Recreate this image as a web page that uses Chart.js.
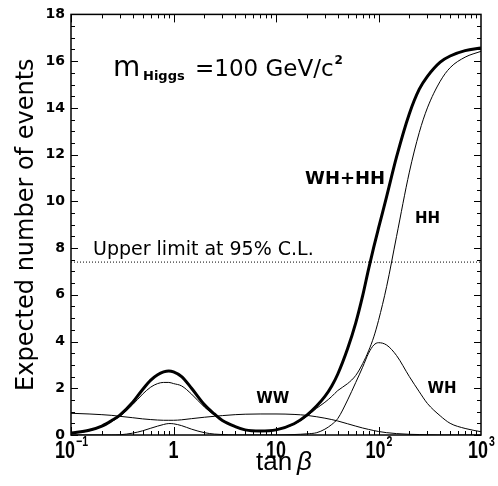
<!DOCTYPE html>
<html>
<head>
<meta charset="utf-8">
<script src="https://cdn.jsdelivr.net/npm/chart.js@4.4.1/dist/chart.umd.min.js"></script>
<style>
  html, body { margin: 0; padding: 0; background: #fff; }
</style>
</head>
<body>
<canvas id="chart" width="498" height="486"></canvas>
<script>
// tan(beta) sample points
const tanBeta = [0.1, 0.15, 0.2, 0.25, 0.3, 0.4, 0.5, 0.6, 0.7, 0.8, 0.9, 1,
  1.2, 1.5, 2, 2.5, 3, 4, 5, 7, 10,
  15, 20, 25, 30, 35, 40, 50, 60, 70, 80, 90, 100,
  120, 150, 200, 250, 300, 400, 500, 700, 1000];

// expected number of events per channel
const totalWhHh = [0.08, 0.2, 0.38, 0.62, 0.85, 1.4, 1.95, 2.35, 2.58, 2.7, 2.74, 2.7,
  2.5, 2.0, 1.3, 0.9, 0.62, 0.36, 0.22, 0.17, 0.22,
  0.48, 0.85, 1.25, 1.65, 2.1, 2.6, 3.7, 4.8, 5.95, 7.1, 8.05, 8.85,
  10.2, 11.9, 13.75, 14.8, 15.35, 15.96, 16.22, 16.45, 16.56];
const hh = [0.07, 0.18, 0.36, 0.58, 0.8, 1.3, 1.75, 2.05, 2.2, 2.25, 2.25, 2.2,
  2.1, 1.75, 1.2, 0.86, 0.6, 0.36, 0.22, 0.17, 0.22,
  0.46, 0.8, 1.15, 1.4, 1.65, 1.9, 2.2, 2.55, 3.05, 3.6, 4.2, 4.9,
  6.35, 8.5, 11.25, 12.95, 14.0, 15.14, 15.72, 16.17, 16.42];
const wh = [0, 0, 0, 0, 0.01, 0.08, 0.18, 0.29, 0.38, 0.45, 0.49, 0.48,
  0.4, 0.25, 0.1, 0.04, 0.02, 0, 0, 0, 0,
  0.02, 0.05, 0.1, 0.25, 0.45, 0.7, 1.5, 2.25, 2.9, 3.5, 3.85, 3.95,
  3.85, 3.4, 2.5, 1.85, 1.35, 0.82, 0.5, 0.28, 0.14];
const ww = [0.93, 0.9, 0.87, 0.84, 0.8, 0.74, 0.69, 0.66, 0.64, 0.63, 0.63, 0.63,
  0.65, 0.7, 0.76, 0.8, 0.83, 0.87, 0.89, 0.9, 0.9,
  0.88, 0.84, 0.78, 0.72, 0.66, 0.6, 0.48, 0.38, 0.3, 0.24, 0.19, 0.15,
  0.1, 0.06, 0.03, 0.02, 0.01, 0, 0, 0, 0];

const upperLimit = 7.4;
const xRange = [0.1, 1000];
const yTicks = [0, 2, 4, 6, 8, 10, 12, 14, 16, 18];
// decade labels: mantissa text and exponent text
const xDecades = [0.1, 1, 10, 100, 1000];
const xDecadeBase = ['10', '1', '10', '10', '10'];
const xDecadeExp = ['\u22121', '', '', '2', '3'];

const FONT = "'DejaVu Sans', sans-serif";
const SANS = "'Liberation Sans', Arial, sans-serif";

function pts(ys) {
  return tanBeta.map((x, i) => ({ x: x, y: ys[i] }));
}

function curve(ys, width) {
  return {
    data: pts(ys),
    borderColor: '#000',
    borderWidth: width,
    pointRadius: 0,
    cubicInterpolationMode: 'monotone',
    fill: false
  };
}

// text squeezed horizontally, to get the tall narrow glyphs of the original
function narrowText(ctx, text, x, y, sx) {
  ctx.save();
  ctx.translate(x, y);
  ctx.scale(sx, 1);
  ctx.fillText(text, 0, 0);
  ctx.restore();
}

// ticks on all four sides pointing inwards, the frame and the labels
const framePlugin = {
  id: 'frame',
  afterDatasetsDraw(chart) {
    const { ctx, chartArea: a, scales: { x, y } } = chart;
    ctx.save();
    ctx.strokeStyle = '#000';
    ctx.lineWidth = 1.5;
    ctx.strokeRect(a.left, a.top, a.right - a.left, a.bottom - a.top);

    ctx.lineWidth = 1;
    ctx.beginPath();
    for (let v = 0; v <= 18; v += 0.5) {
      const py = Math.round(y.getPixelForValue(v)) + 0.5;
      const len = v % 2 === 0 ? 7 : 4;
      ctx.moveTo(a.left, py); ctx.lineTo(a.left + len, py);
      ctx.moveTo(a.right, py); ctx.lineTo(a.right - len, py);
    }
    for (let d = 0.1; d < 1000; d *= 10) {
      for (let m = 1; m < 10; m++) {
        const px = Math.round(x.getPixelForValue(d * m)) + 0.5;
        const len = m === 1 ? 8 : 4;
        ctx.moveTo(px, a.bottom); ctx.lineTo(px, a.bottom - len);
        ctx.moveTo(px, a.top); ctx.lineTo(px, a.top + len);
      }
    }
    ctx.stroke();

    ctx.fillStyle = '#000';
    ctx.textBaseline = 'alphabetic';
    ctx.textAlign = 'left';

    // x decade labels with superscript exponents
    const sx = 0.75;
    xDecades.forEach((d, i) => {
      ctx.font = 'bold 24px ' + SANS;
      const wb = ctx.measureText(xDecadeBase[i]).width * sx;
      ctx.font = 'bold 14px ' + SANS;
      const we = xDecadeExp[i] ? ctx.measureText(xDecadeExp[i]).width * sx : 0;
      const x0 = x.getPixelForValue(d) - (wb + we) / 2;
      ctx.font = 'bold 24px ' + SANS;
      narrowText(ctx, xDecadeBase[i], x0, a.bottom + 23, sx);
      if (we) {
        ctx.font = 'bold 14px ' + SANS;
        narrowText(ctx, xDecadeExp[i], x0 + wb + 1, a.bottom + 11, sx);
      }
    });

    // x axis title
    ctx.font = '26px ' + SANS;
    ctx.fillText('tan', 256, 470);
    ctx.font = 'italic 26px ' + SANS;
    ctx.fillText('\u03B2', 297, 470);

    // mass label
    ctx.font = '28px ' + FONT;
    ctx.fillText('m', 113, 76);
    ctx.font = 'bold 13px ' + FONT;
    ctx.fillText('Higgs', 143, 80);
    ctx.font = '23px ' + FONT;
    ctx.fillText('=100 GeV/c', 195, 76);
    const wm = ctx.measureText('=100 GeV/c').width;
    ctx.font = 'bold 12px ' + FONT;
    ctx.fillText('2', 196 + wm, 64);

    ctx.font = '19px ' + FONT;
    ctx.fillText('Upper limit at 95% C.L.', 93, y.getPixelForValue(upperLimit) - 7);

    ctx.font = 'bold 18px ' + FONT;
    ctx.fillText('WH+HH', x.getPixelForValue(19.2), y.getPixelForValue(10.73));
    ctx.font = 'bold 15px ' + FONT;
    ctx.fillText('HH', x.getPixelForValue(227), y.getPixelForValue(9.06));
    ctx.fillText('WW', x.getPixelForValue(6.4), y.getPixelForValue(1.37));
    ctx.fillText('WH', x.getPixelForValue(300), y.getPixelForValue(1.8));
    ctx.restore();
  }
};

const ctx = document.getElementById('chart').getContext('2d');
new Chart(ctx, {
  type: 'line',
  data: {
    datasets: [
      curve(totalWhHh, 3),
      curve(hh, 1),
      curve(wh, 1),
      curve(ww, 1),
      {
        data: [{ x: xRange[0], y: upperLimit }, { x: xRange[1], y: upperLimit }],
        borderColor: '#000',
        borderWidth: 1,
        borderDash: [1, 2],
        pointRadius: 0
      }
    ]
  },
  options: {
    responsive: false,
    animation: false,
    devicePixelRatio: 1,
    layout: { padding: { top: 14, right: 17, left: 0, bottom: 0 } },
    plugins: { legend: { display: false }, tooltip: { enabled: false } },
    scales: {
      x: {
        type: 'logarithmic',
        min: xRange[0],
        max: xRange[1],
        afterFit: (s) => { s.height = 51; },
        grid: { display: false, drawTicks: false },
        border: { display: false },
        ticks: { display: false }
      },
      y: {
        min: 0,
        max: 18,
        afterFit: (s) => { s.width = 71; },
        afterBuildTicks: (s) => { s.ticks = yTicks.map(v => ({ value: v })); },
        grid: { display: false, drawTicks: false },
        border: { display: false },
        ticks: {
          color: '#000',
          padding: 6,
          font: { family: FONT, size: 14, weight: 'bold' }
        },
        title: {
          display: true,
          text: 'Expected number of events',
          color: '#000',
          padding: { top: 12, bottom: 0 },
          font: { family: FONT, size: 24 }
        }
      }
    }
  },
  plugins: [framePlugin]
});
</script>
</body>
</html>
